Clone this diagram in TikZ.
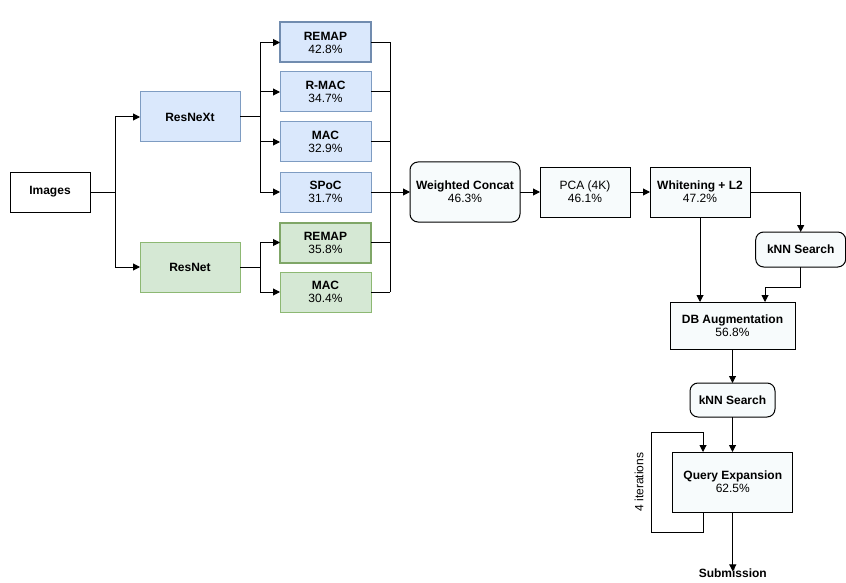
\documentclass[tikz,border=0pt]{standalone}
\usepackage{fontspec}
\setmainfont{Liberation Sans}
\usetikzlibrary{arrows.meta}
\definecolor{bfill}{HTML}{DAE8FC}
\definecolor{bdraw}{HTML}{7E9CC2}
\definecolor{gfill}{HTML}{D5E8D4}
\definecolor{gdraw}{HTML}{8DB873}
\definecolor{wfill}{HTML}{F7FBFC}
\tikzset{
  box/.style={draw=black, line width=1pt, inner sep=0pt, outer sep=0pt, align=center, font=\fontsize{12}{13}\selectfont},
  bluebox/.style={box, fill=bfill, draw=bdraw},
  greenbox/.style={box, fill=gfill, draw=gdraw},
  rbox/.style={box, fill=wfill, rounded corners=8pt},
  wbox/.style={box, fill=wfill},
  arr/.style={-{Triangle[length=7pt,width=7pt]}, line width=1pt},
  ln/.style={line width=1pt},
}
\begin{document}
\begin{tikzpicture}[x=1pt,y=-1pt]
\useasboundingbox (0,0) rectangle (846,583);
\node[box, minimum width=80, minimum height=40] (img) at (50,192) {\textbf{Images}};
\node[bluebox, minimum width=100, minimum height=50] (rx) at (190,117) {\textbf{ResNeXt}};
\node[greenbox, minimum width=100, minimum height=50] (rn) at (190,267) {\textbf{ResNet}};

\node[bluebox, line width=2pt, draw=bdraw!90!black, minimum width=91, minimum height=40] (b1) at (325.5,42.5) {\textbf{REMAP}\\42.8\%};
\node[bluebox, minimum width=91, minimum height=40] (b2) at (325.5,92) {\textbf{R-MAC}\\34.7\%};
\node[bluebox, minimum width=91, minimum height=40] (b3) at (325.5,142) {\textbf{MAC}\\32.9\%};
\node[bluebox, minimum width=91, minimum height=40] (b4) at (325.5,192) {\textbf{SPoC}\\31.7\%};
\node[greenbox, line width=2pt, draw=gdraw!90!black, minimum width=91, minimum height=40] (g1) at (325.5,242.5) {\textbf{REMAP}\\35.8\%};
\node[greenbox, minimum width=91, minimum height=40] (g2) at (325.5,292) {\textbf{MAC}\\30.4\%};

\node[rbox, minimum width=110, minimum height=60] (wc) at (465,192) {\textbf{Weighted Concat}\\46.3\%};
\node[wbox, minimum width=90, minimum height=50] (pca) at (585,192) {PCA (4K)\\46.1\%};
\node[wbox, minimum width=100, minimum height=50] (wh) at (700,192) {\textbf{Whitening + L2}\\47.2\%};
\node[rbox, minimum width=90, minimum height=35] (k1) at (800.7,249.5) {\textbf{kNN Search}};
\node[wbox, minimum width=125, minimum height=47] (db) at (732.5,325.5) {\textbf{DB Augmentation}\\56.8\%};
\node[rbox, minimum width=85, minimum height=34] (k2) at (732.5,400) {\textbf{kNN Search}};
\node[wbox, minimum width=120, minimum height=60] (qe) at (732.8,482) {\textbf{Query Expansion}\\62.5\%};
\node[font=\fontsize{12}{13}\selectfont\bfseries, inner sep=0pt] (sub) at (732.8,573) {Submission};
\node[font=\fontsize{12}{13}\selectfont, rotate=90, inner sep=0pt] (it) at (639,482) {4 iterations};

% Images -> backbones
\coordinate (j0) at (115,192);
\draw[ln] (img.east) -- (j0);
\draw[arr] (j0) |- (rx.west);
\draw[arr] (j0) |- (rn.west);
% ResNeXt -> poolings
\coordinate (j1) at (260,117);
\draw[ln] (rx.east) -- (j1);
\draw[arr] (j1) |- (b1.west);
\draw[arr] (j1) |- (b2.west);
\draw[arr] (j1) |- (b3.west);
\draw[arr] (j1 |- b4.west) -- (b4.west);
\draw[ln] (j1) -- (j1 |- b4.west);
% ResNet -> poolings
\coordinate (j2) at (260,267);
\draw[ln] (rn.east) -- (j2);
\draw[arr] (j2) |- (g1.west);
\draw[arr] (j2) |- (g2.west);
% collector
\coordinate (cR) at (390,192);
\foreach \b in {b1,b2,b3,b4,g1,g2} \draw[ln] (\b.east) -- (\b.east -| cR);
\draw[ln] (b1.east -| cR) -- (g2.east -| cR);
\draw[arr] (cR) -- (wc.west);
% pipeline
\draw[arr] (wc.east) -- (pca.west);
\draw[arr] (pca.east) -- (wh.west);
\draw[arr] (wh.east) -| (k1.north);
\draw[arr] (wh.south) -- (wh.south |- db.north);
\coordinate (kk) at (765,287);
\draw[arr] (k1.south) |- (kk) -- (kk |- db.north);
\draw[arr] (db.south -| k2.north) -- (k2.north);
\draw[arr] (k2.south) -- (k2.south |- qe.north);
% loop
\coordinate (l1) at (703,532);
\coordinate (l2) at (651,432);
\draw[arr] (qe.south -| l1) -- (l1) -| (l2) -| (qe.north -| l1);
% submission
\draw[arr] (qe.south) -- ([yshift=-3pt]sub.north);
\end{tikzpicture}
\end{document}
